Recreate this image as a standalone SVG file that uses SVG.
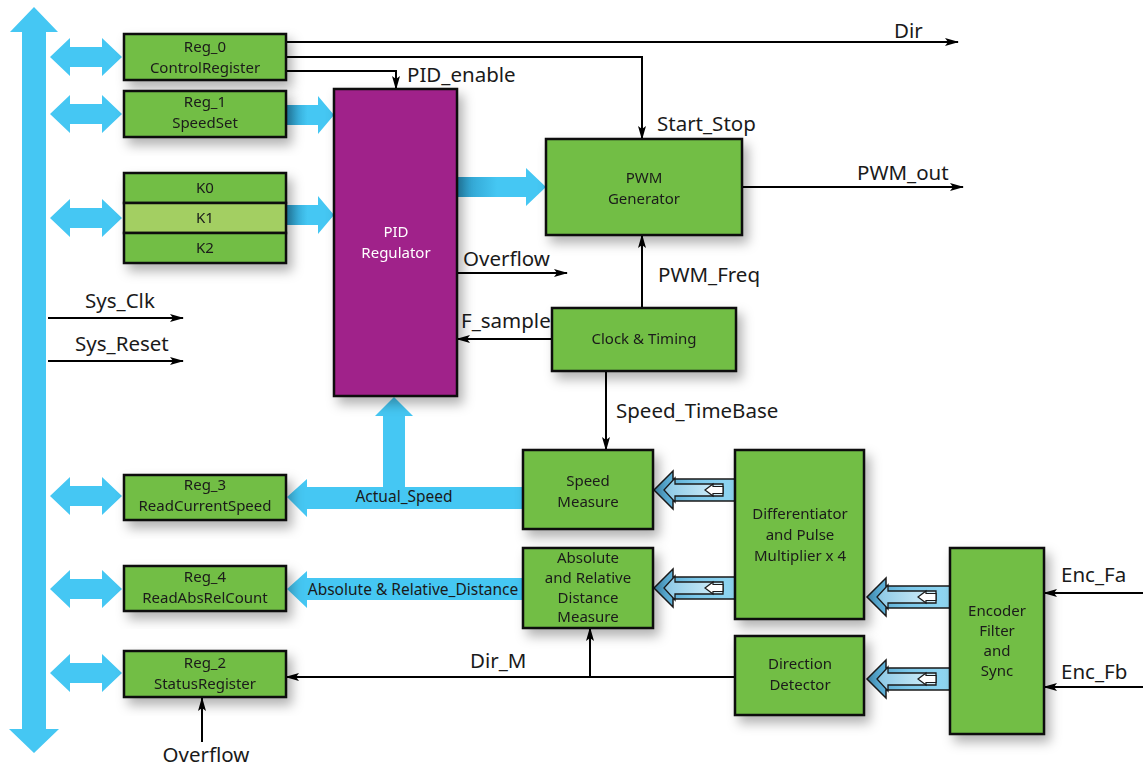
<svg xmlns="http://www.w3.org/2000/svg" xmlns:xlink="http://www.w3.org/1999/xlink" width="1143" height="766" viewBox="0 0 1143 766">
<style>
  text { font-family: "Noto Sans", "Open Sans", sans-serif; fill: #1a1a1a; }
  .box { fill: #72BE44; stroke: #111; stroke-width: 2.5; }
  .lbl { font-size: 15px; text-anchor: middle; }
  .sig { font-size: 20.5px; }
  .ln { fill: none; stroke: #000; stroke-width: 2; }
  .blue { fill: #45C7F3; }
</style>
<defs>
  <filter id="sh" x="-30%" y="-30%" width="170%" height="170%">
    <feDropShadow dx="5" dy="7" stdDeviation="6" flood-color="#000" flood-opacity="0.3"/>
  </filter>
  <marker id="ah" viewBox="0 0 14 8" refX="13" refY="4" markerWidth="14" markerHeight="8" markerUnits="userSpaceOnUse" orient="auto">
    <path d="M0,0 L14,4 L0,8 L3,4 Z" fill="#000"/>
  </marker>
  <linearGradient id="bg1" x1="0" y1="0" x2="1" y2="0">
    <stop offset="0" stop-color="#2A98C6"/>
    <stop offset="0.45" stop-color="#45C7F3"/>
    <stop offset="1" stop-color="#45C7F3"/>
  </linearGradient>
  <linearGradient id="hg" x1="0" y1="0" x2="1" y2="0">
    <stop offset="0" stop-color="#4A9FC9"/>
    <stop offset="0.5" stop-color="#7CC8EA"/>
    <stop offset="1" stop-color="#92D8F3"/>
  </linearGradient>
  <linearGradient id="hgi" x1="0" y1="0" x2="1" y2="0">
    <stop offset="0" stop-color="#8CC9E6"/>
    <stop offset="1" stop-color="#D5F0FB"/>
  </linearGradient>
  <path id="dbl" d="M50,0 L70,-19 L70,-10 L102,-10 L102,-19 L122,0 L102,19 L102,10 L70,10 L70,19 Z" fill="#45C7F3"/>
  <g id="hollow">
    <path d="M0,0 L19,-19 L19,-11 L83,-11 L83,11 L19,11 L19,19 Z" fill="url(#hg)"/>
    <path d="M83,-11 L19,-11 L19,-19 L0,0 L19,19 L19,11 L83,11" fill="none" stroke="#1a1a1a" stroke-width="1.5"/>
    <path d="M10,0 L21,-12 L21,-6 L69,-6 L69,6 L21,6 L21,12 Z" fill="url(#hgi)" stroke="#1a1a1a" stroke-width="1.3"/>
    <path d="M51,0 L59,-6 L59,-3.5 L69,-3.5 L69,3.5 L59,3.5 L59,6 Z" fill="#fff" stroke="#1a1a1a" stroke-width="1.2"/>
  </g>
</defs>

<rect width="1143" height="766" fill="#fff"/>

<g id="connectors">
  <!-- system bus -->
  <path class="blue" d="M34,7 L58,32 L46,32 L46,729 L59,729 L34,753 L9,729 L22,729 L22,32 L10,32 Z"/>
  <use xlink:href="#dbl" href="#dbl" transform="translate(0,57)"/>
  <use xlink:href="#dbl" href="#dbl" transform="translate(0,114)"/>
  <use xlink:href="#dbl" href="#dbl" transform="translate(0,218)"/>
  <use xlink:href="#dbl" href="#dbl" transform="translate(0,496)"/>
  <use xlink:href="#dbl" href="#dbl" transform="translate(0,589)"/>
  <use xlink:href="#dbl" href="#dbl" transform="translate(0,673)"/>

  <!-- register -> PID -->
  <path fill="url(#bg1)" d="M286,105 L318,105 L318,96 L334,115 L318,134 L318,125 L286,125 Z"/>
  <path fill="url(#bg1)" d="M286,205 L318,205 L318,196 L334,215 L318,234 L318,225 L286,225 Z"/>
  <!-- PID -> PWM -->
  <path fill="url(#bg1)" d="M457,177 L526,177 L526,168 L546,187 L526,206 L526,197 L457,197 Z"/>

  <!-- Actual_Speed -->
  <path class="blue" d="M287,497 L307,479 L307,487 L383,487 L383,416 L375,416 L394,397 L413,416 L405,416 L405,487 L523,487 L523,509 L307,509 L307,517 Z"/>
  <text x="404" y="502" style="font-size:15.5px" text-anchor="middle">Actual_Speed</text>
  <!-- Absolute & Relative_Distance -->
  <path class="blue" d="M287,589 L307,571 L307,578 L523,578 L523,600 L307,600 L307,608 Z"/>
  <text x="413" y="595" style="font-size:15.5px" text-anchor="middle">Absolute &amp; Relative_Distance</text>

  <!-- hollow data arrows -->
  <use xlink:href="#hollow" href="#hollow" transform="translate(654,490)"/>
  <use xlink:href="#hollow" href="#hollow" transform="translate(654,588)"/>
  <use xlink:href="#hollow" href="#hollow" transform="translate(867,597)"/>
  <use xlink:href="#hollow" href="#hollow" transform="translate(867,679)"/>

  <!-- signal lines -->
  <path class="ln" d="M286,42 H958" marker-end="url(#ah)"/>
  <text class="sig" x="894" y="38">Dir</text>
  <path class="ln" d="M286,57 H642 V139" marker-end="url(#ah)"/>
  <text class="sig" x="657" y="131">Start_Stop</text>
  <path class="ln" d="M286,71 H396 V89" marker-end="url(#ah)"/>
  <text class="sig" x="407" y="82">PID_enable</text>
  <path class="ln" d="M742,187 H963" marker-end="url(#ah)"/>
  <text class="sig" x="857" y="180">PWM_out</text>
  <path class="ln" d="M457,273 H567" marker-end="url(#ah)"/>
  <text class="sig" x="463" y="266">Overflow</text>
  <path class="ln" d="M642,308 V235" marker-end="url(#ah)"/>
  <text class="sig" x="658" y="282">PWM_Freq</text>
  <path class="ln" d="M552,339 H457" marker-end="url(#ah)"/>
  <text class="sig" x="461" y="328">F_sample</text>
  <path class="ln" d="M606,371 V450" marker-end="url(#ah)"/>
  <text class="sig" x="616" y="418">Speed_TimeBase</text>
  <path class="ln" d="M48,318 H183" marker-end="url(#ah)"/>
  <text class="sig" x="85" y="308">Sys_Clk</text>
  <path class="ln" d="M48,361 H183" marker-end="url(#ah)"/>
  <text class="sig" x="75" y="351">Sys_Reset</text>
  <path class="ln" d="M1143,593 H1044" marker-end="url(#ah)"/>
  <text class="sig" x="1061" y="582">Enc_Fa</text>
  <path class="ln" d="M1143,687 H1044" marker-end="url(#ah)"/>
  <text class="sig" x="1061" y="679">Enc_Fb</text>
  <path class="ln" d="M735,677 H286" marker-end="url(#ah)"/>
  <path class="ln" d="M590,677 V628" marker-end="url(#ah)"/>
  <text class="sig" x="470" y="668">Dir_M</text>
  <path class="ln" d="M202,742 V698" marker-end="url(#ah)"/>
  <text class="sig" x="206" y="762" text-anchor="middle">Overflow</text>
</g>

<g id="reg0" filter="url(#sh)">
  <rect class="box" x="124" y="34" width="162" height="46"/>
  <text class="lbl" x="205" y="52">Reg_0</text>
  <text class="lbl" x="205" y="73">ControlRegister</text>
</g>
<g id="reg1" filter="url(#sh)">
  <rect class="box" x="124" y="91" width="162" height="46"/>
  <text class="lbl" x="205" y="107">Reg_1</text>
  <text class="lbl" x="205" y="128">SpeedSet</text>
</g>
<g id="kregs" filter="url(#sh)">
  <rect class="box" x="124" y="173" width="162" height="30"/>
  <rect class="box" x="124" y="203" width="162" height="30" style="fill:#A3CF62"/>
  <rect class="box" x="124" y="233" width="162" height="30"/>
  <text class="lbl" x="205" y="193">K0</text>
  <text class="lbl" x="205" y="223">K1</text>
  <text class="lbl" x="205" y="253">K2</text>
</g>
<g id="pid" filter="url(#sh)">
  <rect x="334" y="89" width="123" height="307" fill="#A0228A" stroke="#111" stroke-width="2.5"/>
  <text class="lbl" x="396" y="237" style="fill:#fff">PID</text>
  <text class="lbl" x="396" y="258" style="fill:#fff">Regulator</text>
</g>
<g id="pwm" filter="url(#sh)">
  <rect class="box" x="546" y="139" width="196" height="96"/>
  <text class="lbl" x="644" y="183">PWM</text>
  <text class="lbl" x="644" y="204">Generator</text>
</g>
<g id="clock" filter="url(#sh)">
  <rect class="box" x="552" y="308" width="184" height="63"/>
  <text class="lbl" x="644" y="344">Clock &amp; Timing</text>
</g>
<g id="speed" filter="url(#sh)">
  <rect class="box" x="523" y="450" width="130" height="79"/>
  <text class="lbl" x="588" y="486">Speed</text>
  <text class="lbl" x="588" y="507">Measure</text>
</g>
<g id="absrel" filter="url(#sh)">
  <rect class="box" x="523" y="548" width="130" height="80"/>
  <text class="lbl" x="588" y="563">Absolute</text>
  <text class="lbl" x="588" y="583">and Relative</text>
  <text class="lbl" x="588" y="603">Distance</text>
  <text class="lbl" x="588" y="622">Measure</text>
</g>
<g id="diff" filter="url(#sh)">
  <rect class="box" x="735" y="450" width="129" height="169"/>
  <text class="lbl" x="800" y="519">Differentiator</text>
  <text class="lbl" x="800" y="540">and Pulse</text>
  <text class="lbl" x="800" y="561">Multiplier x 4</text>
</g>
<g id="dirdet" filter="url(#sh)">
  <rect class="box" x="735" y="636" width="129" height="79"/>
  <text class="lbl" x="800" y="669">Direction</text>
  <text class="lbl" x="800" y="690">Detector</text>
</g>
<g id="encoder" filter="url(#sh)">
  <rect class="box" x="950" y="548" width="94" height="186"/>
  <text class="lbl" x="997" y="616">Encoder</text>
  <text class="lbl" x="997" y="636">Filter</text>
  <text class="lbl" x="997" y="656">and</text>
  <text class="lbl" x="997" y="676">Sync</text>
</g>
<g id="reg3" filter="url(#sh)">
  <rect class="box" x="124" y="475" width="162" height="45"/>
  <text class="lbl" x="205" y="490">Reg_3</text>
  <text class="lbl" x="205" y="511">ReadCurrentSpeed</text>
</g>
<g id="reg4" filter="url(#sh)">
  <rect class="box" x="124" y="566" width="162" height="45"/>
  <text class="lbl" x="205" y="582">Reg_4</text>
  <text class="lbl" x="205" y="603">ReadAbsRelCount</text>
</g>
<g id="reg2" filter="url(#sh)">
  <rect class="box" x="124" y="651" width="162" height="46"/>
  <text class="lbl" x="205" y="668">Reg_2</text>
  <text class="lbl" x="205" y="689">StatusRegister</text>
</g>
</svg>
